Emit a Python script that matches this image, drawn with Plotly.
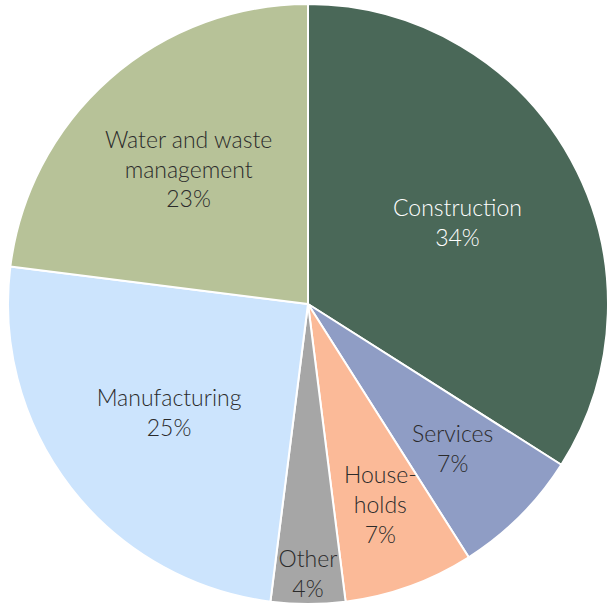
import math
import plotly.graph_objects as go

categories = ["Construction", "Services", "Households", "Other", "Manufacturing", "Water and waste management"]
display_labels = ["Construction", "Services", "House-<br>holds", "Other", "Manufacturing", "Water and waste<br>management"]
values = [34, 7, 7, 4, 25, 23]
colors = ["#4A6858", "#8F9DC5", "#FBBA98", "#A6A6A6", "#CCE4FD", "#B7C298"]

# slices whose labels are placed as annotations (radial fraction of radius)
annot_radius = {"Construction": 0.567, "Services": 0.68, "Households": 0.71}

W, H = 608, 606
cx, cy, R = 308, 304, 300  # pie centre / radius in pixels

labels_text = [f"{l}<br>{v}%" for l, v in zip(display_labels, values)]
pie_text = ["" if c in annot_radius else t for c, t in zip(categories, labels_text)]

FONT = dict(family="Lato", size=23, weight=300)
TXT = "#2B2B2B"
text_colors = ["#FFFFFF", TXT, TXT, TXT, TXT, TXT]

fig = go.Figure(go.Pie(
    labels=categories,
    values=values,
    text=pie_text,
    textinfo="text",
    textposition="inside",
    insidetextorientation="horizontal",
    sort=False,
    direction="clockwise",
    rotation=0,
    marker=dict(colors=colors, line=dict(color="white", width=2)),
    textfont=dict(**FONT, color=text_colors),
    domain=dict(x=[(cx - R) / W, (cx + R) / W], y=[(H - cy - R) / H, (H - cy + R) / H]),
    hoverinfo="label+percent",
    showlegend=False,
))

total = sum(values)
cum = 0
annotations = []
for c, v, t, col in zip(categories, values, labels_text, text_colors):
    mid = (cum + v / 2) / total * 2 * math.pi
    cum += v
    if c in annot_radius:
        r = annot_radius[c] * R
        px = cx + r * math.sin(mid)
        py = cy - r * math.cos(mid)
        annotations.append(dict(
            x=px / W, y=(H - py) / H, xref="paper", yref="paper",
            text=t, showarrow=False, xanchor="center", yanchor="middle",
            font=dict(**FONT, color=col), align="center",
        ))

fig.update_layout(
    width=W, height=H,
    margin=dict(l=0, r=0, t=0, b=0),
    paper_bgcolor="white",
    uniformtext=dict(minsize=23, mode="show"),
    annotations=annotations,
)

fig.write_html("out.html")
